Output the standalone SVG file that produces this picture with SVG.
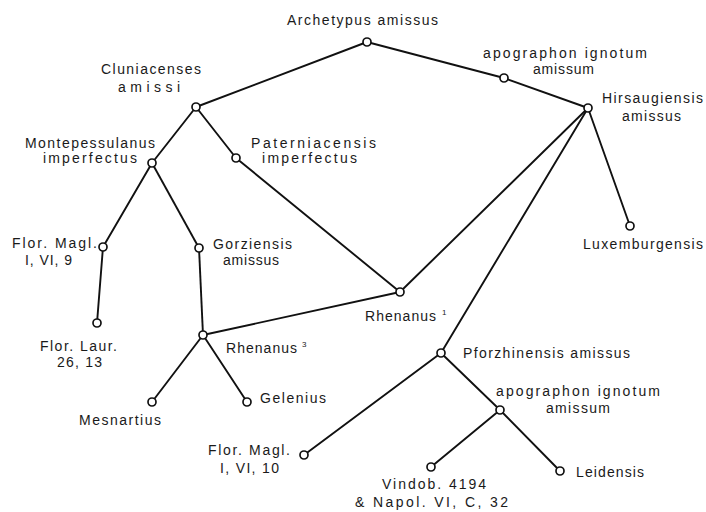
<svg xmlns="http://www.w3.org/2000/svg" width="706" height="512" viewBox="0 0 706 512">
<style>
.bg{fill:#fff}
.e line{stroke:#111;stroke-width:1.9;stroke-linecap:round}
.n circle{fill:#fff;stroke:#111;stroke-width:1.7}
.n text{font-family:"Liberation Sans",Arial,sans-serif;font-size:14px;fill:#1a1a1a}
.sup{font-size:8px}
</style>
<rect class="bg" width="706" height="512"/>
<g id="connectors" class="e">
<line x1="367" y1="42" x2="196" y2="107"/>
<line x1="367" y1="42" x2="504" y2="78"/>
<line x1="504" y1="78" x2="588" y2="108"/>
<line x1="588" y1="108" x2="630" y2="226"/>
<line x1="588" y1="108" x2="400" y2="292"/>
<line x1="588" y1="108" x2="441" y2="353"/>
<line x1="196" y1="107" x2="152" y2="163"/>
<line x1="196" y1="107" x2="236" y2="158"/>
<line x1="236" y1="158" x2="400" y2="292"/>
<line x1="152" y1="163" x2="103" y2="247"/>
<line x1="152" y1="163" x2="199" y2="248"/>
<line x1="103" y1="247" x2="97" y2="323"/>
<line x1="199" y1="248" x2="203" y2="335"/>
<line x1="203" y1="335" x2="400" y2="292"/>
<line x1="203" y1="335" x2="152" y2="402"/>
<line x1="203" y1="335" x2="247" y2="402"/>
<line x1="441" y1="353" x2="304" y2="455"/>
<line x1="441" y1="353" x2="500" y2="410"/>
<line x1="500" y1="410" x2="431" y2="467"/>
<line x1="500" y1="410" x2="560" y2="471"/>
</g>
<g id="archetypus" class="n"><circle cx="367" cy="42" r="4"/><text x="287" y="25" textLength="151">Archetypus amissus</text></g>
<g id="apographon1" class="n"><circle cx="504" cy="78" r="4"/><text x="483" y="58" textLength="164">apographon ignotum</text><text x="533" y="74" textLength="61">amissum</text></g>
<g id="hirsaugiensis" class="n"><circle cx="588" cy="108" r="4"/><text x="602" y="103" textLength="101">Hirsaugiensis</text><text x="622" y="121" textLength="59">amissus</text></g>
<g id="luxemburgensis" class="n"><circle cx="630" cy="226" r="4"/><text x="583" y="249" textLength="120">Luxemburgensis</text></g>
<g id="cluniacenses" class="n"><circle cx="196" cy="107" r="4"/><text x="101" y="74" textLength="100">Cluniacenses</text><text x="118" y="92" textLength="62">amissi</text></g>
<g id="montepessulanus" class="n"><circle cx="152" cy="163" r="4"/><text x="25" y="148" textLength="130">Montepessulanus</text><text x="43" y="163" textLength="94">imperfectus</text></g>
<g id="paterniacensis" class="n"><circle cx="236" cy="158" r="4"/><text x="251" y="148" textLength="125">Paterniacensis</text><text x="262" y="163" textLength="95">imperfectus</text></g>
<g id="florMagl9" class="n"><circle cx="103" cy="247" r="4"/><text x="12" y="248" textLength="85">Flor. Magl.</text><text x="25" y="265" textLength="47">I, VI, 9</text></g>
<g id="gorziensis" class="n"><circle cx="199" cy="248" r="4"/><text x="213" y="249" textLength="79">Gorziensis</text><text x="223" y="265" textLength="56">amissus</text></g>
<g id="florLaur" class="n"><circle cx="97" cy="323" r="4"/><text x="40" y="351" textLength="77">Flor. Laur.</text><text x="57" y="367" textLength="45">26, 13</text></g>
<g id="rhenanus3" class="n"><circle cx="203" cy="335" r="4"/><text x="226" y="353"><tspan textLength="71">Rhenanus</tspan><tspan class="sup" dx="4" dy="-6">3</tspan></text></g>
<g id="mesnartius" class="n"><circle cx="152" cy="402" r="4"/><text x="79" y="425" textLength="82">Mesnartius</text></g>
<g id="gelenius" class="n"><circle cx="247" cy="402" r="4"/><text x="260" y="403" textLength="66">Gelenius</text></g>
<g id="rhenanus1" class="n"><circle cx="400" cy="292" r="4"/><text x="365" y="321"><tspan textLength="71">Rhenanus</tspan><tspan class="sup" dx="5" dy="-6">1</tspan></text></g>
<g id="pforzhinensis" class="n"><circle cx="441" cy="353" r="4"/><text x="463" y="358" textLength="167">Pforzhinensis amissus</text></g>
<g id="apographon2" class="n"><circle cx="500" cy="410" r="4"/><text x="496" y="396" textLength="164">apographon ignotum</text><text x="546" y="413" textLength="64">amissum</text></g>
<g id="florMagl10" class="n"><circle cx="304" cy="455" r="4"/><text x="208" y="455" textLength="82">Flor. Magl.</text><text x="220" y="473" textLength="59">I, VI, 10</text></g>
<g id="vindob" class="n"><circle cx="431" cy="467" r="4"/><text x="382" y="489" textLength="104">Vindob. 4194</text><text x="355" y="507" textLength="153">&amp; Napol. VI, C, 32</text></g>
<g id="leidensis" class="n"><circle cx="560" cy="471" r="4"/><text x="576" y="477" textLength="68">Leidensis</text></g>
</svg>
